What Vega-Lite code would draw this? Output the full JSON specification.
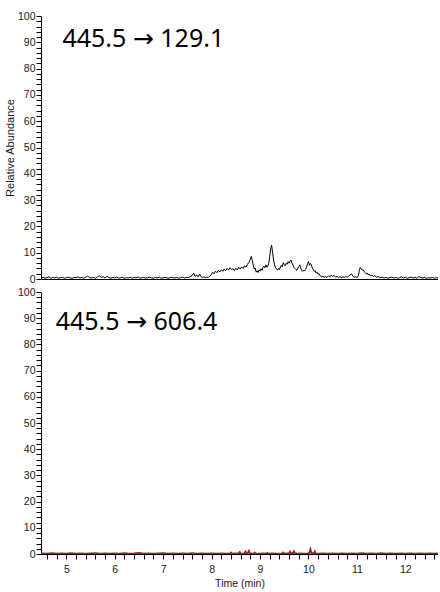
{
  "$schema": "https://vega.github.io/schema/vega-lite/v6.json",
  "padding": {"left": 4, "top": 11, "right": 0, "bottom": 0},
  "bounds": "flush",
  "spacing": 13,
  "config": {
    "view": {"stroke": null},
    "axis": {
      "grid": false,
      "domainColor": "#000000",
      "tickColor": "#000000",
      "tickSize": 5,
      "labelColor": "#1a1a1a",
      "labelFont": "Liberation Sans",
      "labelFontSize": 10.5,
      "titleFont": "Liberation Sans",
      "titleFontWeight": "normal",
      "titleFontSize": 11,
      "titleColor": "#1a1a1a",
      "labelOverlap": false,
      "labelFlush": false,
      "zindex": 0
    }
  },
  "datasets": {
    "top": [
      {"t":4.48,"v":0.4},{"t":4.52,"v":0.7},{"t":4.56,"v":0.3},{"t":4.60,"v":0.5},{"t":4.64,"v":0.8},{"t":4.68,"v":0.3},{"t":4.72,"v":0.6},{"t":4.76,"v":0.4},{"t":4.80,"v":0.7},{"t":4.84,"v":0.3},
      {"t":4.88,"v":0.5},{"t":4.92,"v":0.6},{"t":4.96,"v":0.3},{"t":5.00,"v":0.5},{"t":5.04,"v":0.7},{"t":5.08,"v":0.4},{"t":5.12,"v":0.3},{"t":5.16,"v":0.6},{"t":5.20,"v":0.5},{"t":5.24,"v":0.8},
      {"t":5.28,"v":0.4},{"t":5.32,"v":0.6},{"t":5.36,"v":0.3},{"t":5.40,"v":0.7},{"t":5.44,"v":1.1},{"t":5.48,"v":0.5},{"t":5.52,"v":0.4},{"t":5.56,"v":0.6},{"t":5.60,"v":0.3},{"t":5.64,"v":0.8},
      {"t":5.68,"v":1.2},{"t":5.72,"v":0.6},{"t":5.76,"v":0.9},{"t":5.80,"v":0.4},{"t":5.84,"v":1.0},{"t":5.88,"v":0.5},{"t":5.92,"v":0.3},{"t":5.96,"v":0.6},{"t":6.00,"v":0.4},{"t":6.04,"v":0.7},
      {"t":6.08,"v":0.3},{"t":6.12,"v":0.5},{"t":6.16,"v":0.6},{"t":6.20,"v":0.3},{"t":6.24,"v":0.5},{"t":6.28,"v":0.4},{"t":6.32,"v":0.7},{"t":6.36,"v":0.3},{"t":6.40,"v":0.6},{"t":6.44,"v":0.4},
      {"t":6.48,"v":0.8},{"t":6.52,"v":0.3},{"t":6.56,"v":0.5},{"t":6.60,"v":0.6},{"t":6.64,"v":0.3},{"t":6.68,"v":0.5},{"t":6.72,"v":0.7},{"t":6.76,"v":0.4},{"t":6.80,"v":0.3},{"t":6.84,"v":0.6},
      {"t":6.88,"v":0.4},{"t":6.92,"v":0.7},{"t":6.96,"v":0.3},{"t":7.00,"v":0.5},{"t":7.04,"v":0.6},{"t":7.08,"v":0.4},{"t":7.12,"v":0.3},{"t":7.16,"v":0.7},{"t":7.20,"v":0.5},{"t":7.24,"v":0.4},
      {"t":7.28,"v":0.6},{"t":7.32,"v":0.3},{"t":7.36,"v":0.5},{"t":7.40,"v":0.7},{"t":7.44,"v":0.4},{"t":7.48,"v":0.6},{"t":7.52,"v":0.5},{"t":7.56,"v":0.9},{"t":7.60,"v":1.4},{"t":7.63,"v":2.2},
      {"t":7.66,"v":1.0},{"t":7.69,"v":1.5},{"t":7.72,"v":0.8},{"t":7.75,"v":1.9},{"t":7.78,"v":0.9},{"t":7.81,"v":0.6},{"t":7.84,"v":0.8},{"t":7.87,"v":0.5},{"t":7.90,"v":0.7},{"t":7.93,"v":0.6},
      {"t":7.96,"v":1.0},{"t":7.99,"v":1.6},{"t":8.02,"v":2.6},{"t":8.05,"v":2.0},{"t":8.08,"v":3.0},{"t":8.11,"v":2.4},{"t":8.14,"v":3.3},{"t":8.17,"v":2.7},{"t":8.20,"v":3.5},{"t":8.23,"v":2.9},
      {"t":8.26,"v":3.8},{"t":8.29,"v":3.1},{"t":8.32,"v":4.0},{"t":8.35,"v":3.4},{"t":8.38,"v":4.3},{"t":8.41,"v":3.6},{"t":8.44,"v":3.9},{"t":8.47,"v":3.2},{"t":8.50,"v":4.1},{"t":8.53,"v":3.5},
      {"t":8.56,"v":4.4},{"t":8.59,"v":3.8},{"t":8.62,"v":4.6},{"t":8.65,"v":4.0},{"t":8.68,"v":5.0},{"t":8.71,"v":4.5},{"t":8.74,"v":5.6},{"t":8.77,"v":6.3},{"t":8.80,"v":7.5},{"t":8.82,"v":8.6},
      {"t":8.84,"v":7.0},{"t":8.86,"v":5.2},{"t":8.88,"v":3.8},{"t":8.90,"v":4.2},{"t":8.92,"v":2.6},{"t":8.94,"v":3.1},{"t":8.96,"v":2.5},{"t":8.98,"v":3.4},{"t":9.00,"v":3.0},{"t":9.02,"v":3.9},
      {"t":9.04,"v":3.3},{"t":9.06,"v":4.4},{"t":9.08,"v":4.9},{"t":9.10,"v":4.3},{"t":9.12,"v":5.4},{"t":9.14,"v":4.5},{"t":9.16,"v":4.8},{"t":9.18,"v":6.0},{"t":9.20,"v":8.5},{"t":9.22,"v":11.5},
      {"t":9.24,"v":12.8},{"t":9.26,"v":10.0},{"t":9.28,"v":7.2},{"t":9.30,"v":5.4},{"t":9.32,"v":4.4},{"t":9.34,"v":3.8},{"t":9.36,"v":3.4},{"t":9.38,"v":4.0},{"t":9.40,"v":3.5},{"t":9.42,"v":4.6},
      {"t":9.44,"v":5.2},{"t":9.46,"v":4.6},{"t":9.48,"v":6.2},{"t":9.50,"v":5.5},{"t":9.52,"v":5.0},{"t":9.54,"v":6.0},{"t":9.56,"v":5.6},{"t":9.58,"v":6.6},{"t":9.60,"v":6.0},{"t":9.62,"v":6.9},
      {"t":9.64,"v":7.2},{"t":9.66,"v":6.1},{"t":9.68,"v":5.3},{"t":9.70,"v":4.5},{"t":9.72,"v":4.0},{"t":9.74,"v":3.6},{"t":9.76,"v":3.3},{"t":9.78,"v":4.1},{"t":9.80,"v":4.6},{"t":9.82,"v":5.4},
      {"t":9.84,"v":4.2},{"t":9.86,"v":3.3},{"t":9.88,"v":2.9},{"t":9.90,"v":3.4},{"t":9.92,"v":3.0},{"t":9.94,"v":3.6},{"t":9.96,"v":4.4},{"t":9.98,"v":5.8},{"t":10.00,"v":6.6},{"t":10.02,"v":5.2},
      {"t":10.04,"v":5.9},{"t":10.06,"v":5.4},{"t":10.08,"v":4.2},{"t":10.10,"v":3.6},{"t":10.12,"v":2.9},{"t":10.14,"v":3.2},{"t":10.16,"v":2.2},{"t":10.18,"v":2.6},{"t":10.20,"v":1.8},{"t":10.22,"v":2.0},
      {"t":10.24,"v":1.3},{"t":10.26,"v":1.0},{"t":10.28,"v":0.7},{"t":10.30,"v":1.1},{"t":10.32,"v":0.6},{"t":10.35,"v":0.9},{"t":10.38,"v":0.6},{"t":10.41,"v":1.2},{"t":10.44,"v":0.8},{"t":10.47,"v":1.5},
      {"t":10.50,"v":1.0},{"t":10.53,"v":1.3},{"t":10.56,"v":0.7},{"t":10.59,"v":1.0},{"t":10.62,"v":0.6},{"t":10.65,"v":0.9},{"t":10.68,"v":0.5},{"t":10.71,"v":0.8},{"t":10.74,"v":0.6},{"t":10.77,"v":0.9},
      {"t":10.80,"v":0.7},{"t":10.83,"v":1.1},{"t":10.86,"v":1.6},{"t":10.89,"v":1.9},{"t":10.92,"v":1.0},{"t":10.95,"v":0.7},{"t":10.98,"v":0.9},{"t":11.01,"v":0.6},{"t":11.03,"v":1.2},{"t":11.05,"v":3.2},
      {"t":11.07,"v":4.4},{"t":11.09,"v":3.9},{"t":11.11,"v":3.4},{"t":11.13,"v":3.6},{"t":11.15,"v":2.8},{"t":11.17,"v":2.5},{"t":11.19,"v":2.0},{"t":11.21,"v":2.3},{"t":11.23,"v":1.6},{"t":11.25,"v":1.9},
      {"t":11.28,"v":1.2},{"t":11.31,"v":1.5},{"t":11.34,"v":0.9},{"t":11.37,"v":1.3},{"t":11.40,"v":0.7},{"t":11.44,"v":0.9},{"t":11.48,"v":0.5},{"t":11.52,"v":0.7},{"t":11.56,"v":0.4},{"t":11.60,"v":0.6},
      {"t":11.64,"v":0.3},{"t":11.68,"v":0.5},{"t":11.72,"v":0.7},{"t":11.76,"v":0.4},{"t":11.80,"v":0.6},{"t":11.84,"v":0.3},{"t":11.88,"v":0.5},{"t":11.92,"v":0.8},{"t":11.96,"v":0.4},{"t":12.00,"v":0.6},
      {"t":12.04,"v":0.3},{"t":12.08,"v":0.5},{"t":12.12,"v":0.7},{"t":12.16,"v":0.4},{"t":12.20,"v":0.6},{"t":12.24,"v":0.3},{"t":12.28,"v":0.9},{"t":12.32,"v":0.5},{"t":12.36,"v":0.4},{"t":12.40,"v":0.6},
      {"t":12.44,"v":0.3},{"t":12.48,"v":0.5},{"t":12.52,"v":0.4},{"t":12.56,"v":0.6},{"t":12.60,"v":0.3},{"t":12.64,"v":0.5},{"t":12.68,"v":0.4}
    ],
    "bottom": [
      {"t":4.48,"v":0.2},{"t":4.6,"v":0.1},{"t":4.7,"v":0.3},{"t":4.8,"v":0.1},{"t":4.9,"v":0.2},{"t":5.0,"v":0.1},{"t":5.1,"v":0.3},{"t":5.2,"v":0.1},{"t":5.3,"v":0.2},{"t":5.4,"v":0.1},
      {"t":5.5,"v":0.2},{"t":5.6,"v":0.3},{"t":5.7,"v":0.1},{"t":5.8,"v":0.2},{"t":5.9,"v":0.1},{"t":6.0,"v":0.2},{"t":6.1,"v":0.1},{"t":6.2,"v":0.3},{"t":6.3,"v":0.1},{"t":6.4,"v":0.2},
      {"t":6.5,"v":0.4},{"t":6.6,"v":0.1},{"t":6.7,"v":0.2},{"t":6.8,"v":0.1},{"t":6.9,"v":0.2},{"t":7.0,"v":0.3},{"t":7.1,"v":0.1},{"t":7.2,"v":0.2},{"t":7.3,"v":0.1},{"t":7.4,"v":0.2},
      {"t":7.5,"v":0.1},{"t":7.6,"v":0.3},{"t":7.7,"v":0.1},{"t":7.8,"v":0.2},{"t":7.9,"v":0.1},{"t":8.0,"v":0.2},{"t":8.1,"v":0.1},{"t":8.2,"v":0.2},{"t":8.3,"v":0.1},{"t":8.38,"v":0.1},
      {"t":8.40,"v":0.5},{"t":8.42,"v":0.1},{"t":8.50,"v":0.2},{"t":8.56,"v":0.2},{"t":8.58,"v":0.7},{"t":8.60,"v":0.2},{"t":8.64,"v":0.1},{"t":8.68,"v":0.3},{"t":8.70,"v":0.9},{"t":8.72,"v":0.3},
      {"t":8.75,"v":0.4},{"t":8.77,"v":1.1},{"t":8.79,"v":0.3},{"t":8.83,"v":0.1},{"t":8.87,"v":0.2},{"t":8.89,"v":0.5},{"t":8.91,"v":0.2},{"t":9.0,"v":0.1},{"t":9.07,"v":0.2},{"t":9.13,"v":0.1},
      {"t":9.15,"v":0.4},{"t":9.17,"v":0.1},{"t":9.25,"v":0.2},{"t":9.35,"v":0.1},{"t":9.46,"v":0.1},{"t":9.48,"v":0.5},{"t":9.50,"v":0.1},{"t":9.55,"v":0.2},{"t":9.60,"v":0.2},{"t":9.62,"v":0.8},
      {"t":9.64,"v":0.3},{"t":9.68,"v":0.3},{"t":9.70,"v":1.0},{"t":9.72,"v":0.3},{"t":9.78,"v":0.1},{"t":9.85,"v":0.2},{"t":9.92,"v":0.1},{"t":9.98,"v":0.2},{"t":10.02,"v":0.4},{"t":10.04,"v":1.7},
      {"t":10.06,"v":0.5},{"t":10.09,"v":0.2},{"t":10.11,"v":0.2},{"t":10.13,"v":0.9},{"t":10.15,"v":0.2},{"t":10.2,"v":0.1},{"t":10.3,"v":0.2},{"t":10.4,"v":0.1},{"t":10.5,"v":0.2},{"t":10.6,"v":0.1},
      {"t":10.7,"v":0.2},{"t":10.8,"v":0.1},{"t":10.9,"v":0.2},{"t":11.0,"v":0.1},{"t":11.1,"v":0.3},{"t":11.2,"v":0.1},{"t":11.3,"v":0.2},{"t":11.4,"v":0.1},{"t":11.5,"v":0.3},{"t":11.6,"v":0.1},
      {"t":11.7,"v":0.2},{"t":11.8,"v":0.1},{"t":11.9,"v":0.2},{"t":12.0,"v":0.1},{"t":12.1,"v":0.2},{"t":12.2,"v":0.1},{"t":12.3,"v":0.2},{"t":12.4,"v":0.1},{"t":12.5,"v":0.2},{"t":12.6,"v":0.1},
      {"t":12.68,"v":0.2}
    ]
  },
  "vconcat": [
    {
      "width": 397,
      "height": 263,
      "resolve": {"axis": {"x": "independent", "y": "independent"}},
      "layer": [
        {
          "data": {"name": "top"},
          "mark": {"type": "line", "color": "#000000", "strokeWidth": 1, "clip": true, "zindex": 1},
          "encoding": {
            "x": {
              "field": "t", "type": "quantitative",
              "scale": {"domain": [4.477, 12.675], "nice": false, "zero": false},
              "axis": {"title": null, "labels": false, "ticks": false, "domain": true}
            },
            "y": {
              "field": "v", "type": "quantitative",
              "scale": {"domain": [0, 100], "nice": false},
              "axis": {
                "title": "Relative Abundance",
                "values": [0,2,4,6,8,10,12,14,16,18,20,22,24,26,28,30,32,34,36,38,40,42,44,46,48,50,52,54,56,58,60,62,64,66,68,70,72,74,76,78,80,82,84,86,88,90,92,94,96,98,100],
                "labelExpr": "datum.value % 10 === 0 ? datum.label : ''",
                "labelPadding": 1,
                "titlePadding": 2
              }
            }
          }
        },
        {
          "data": {"values": [{"label": "445.5 → 129.1"}]},
          "mark": {"type": "text", "font": "Noto Sans, DejaVu Sans", "fontSize": 25, "align": "left", "baseline": "alphabetic", "color": "#000000"},
          "encoding": {
            "text": {"field": "label"},
            "x": {"datum": 4.92, "type": "quantitative", "axis": null},
            "y": {"datum": 88.3, "type": "quantitative", "axis": null}
          }
        }
      ]
    },
    {
      "width": 397,
      "height": 262,
      "resolve": {"axis": {"x": "independent", "y": "independent"}},
      "layer": [
        {
          "data": {"name": "bottom"},
          "mark": {"type": "line", "color": "#A02424", "strokeWidth": 2, "clip": true, "zindex": 2},
          "encoding": {
            "x": {
              "field": "t", "type": "quantitative",
              "scale": {"domain": [4.477, 12.675], "nice": false, "zero": false},
              "axis": {
                "title": "Time (min)",
                "titleFontSize": 10.5,
                "titlePadding": 4,
                "values": [4.6,4.8,5,5.2,5.4,5.6,5.8,6,6.2,6.4,6.6,6.8,7,7.2,7.4,7.6,7.8,8,8.2,8.4,8.6,8.8,9,9.2,9.4,9.6,9.8,10,10.2,10.4,10.6,10.8,11,11.2,11.4,11.6,11.8,12,12.2,12.4,12.6],
                "labelExpr": "abs(datum.value - round(datum.value)) < 0.001 ? format(datum.value, 'd') : ''",
                "labelPadding": 5
              }
            },
            "y": {
              "field": "v", "type": "quantitative",
              "scale": {"domain": [0, 100], "nice": false},
              "axis": {
                "title": null,
                "values": [0,2,4,6,8,10,12,14,16,18,20,22,24,26,28,30,32,34,36,38,40,42,44,46,48,50,52,54,56,58,60,62,64,66,68,70,72,74,76,78,80,82,84,86,88,90,92,94,96,98,100],
                "labelExpr": "datum.value % 10 === 0 ? datum.label : ''",
                "labelPadding": 1
              }
            }
          }
        },
        {
          "data": {"values": [{"label": "445.5 → 606.4"}]},
          "mark": {"type": "text", "font": "Noto Sans, DejaVu Sans", "fontSize": 25, "align": "left", "baseline": "alphabetic", "color": "#000000"},
          "encoding": {
            "text": {"field": "label"},
            "x": {"datum": 4.78, "type": "quantitative", "axis": null},
            "y": {"datum": 85.6, "type": "quantitative", "axis": null}
          }
        }
      ]
    }
  ]
}
